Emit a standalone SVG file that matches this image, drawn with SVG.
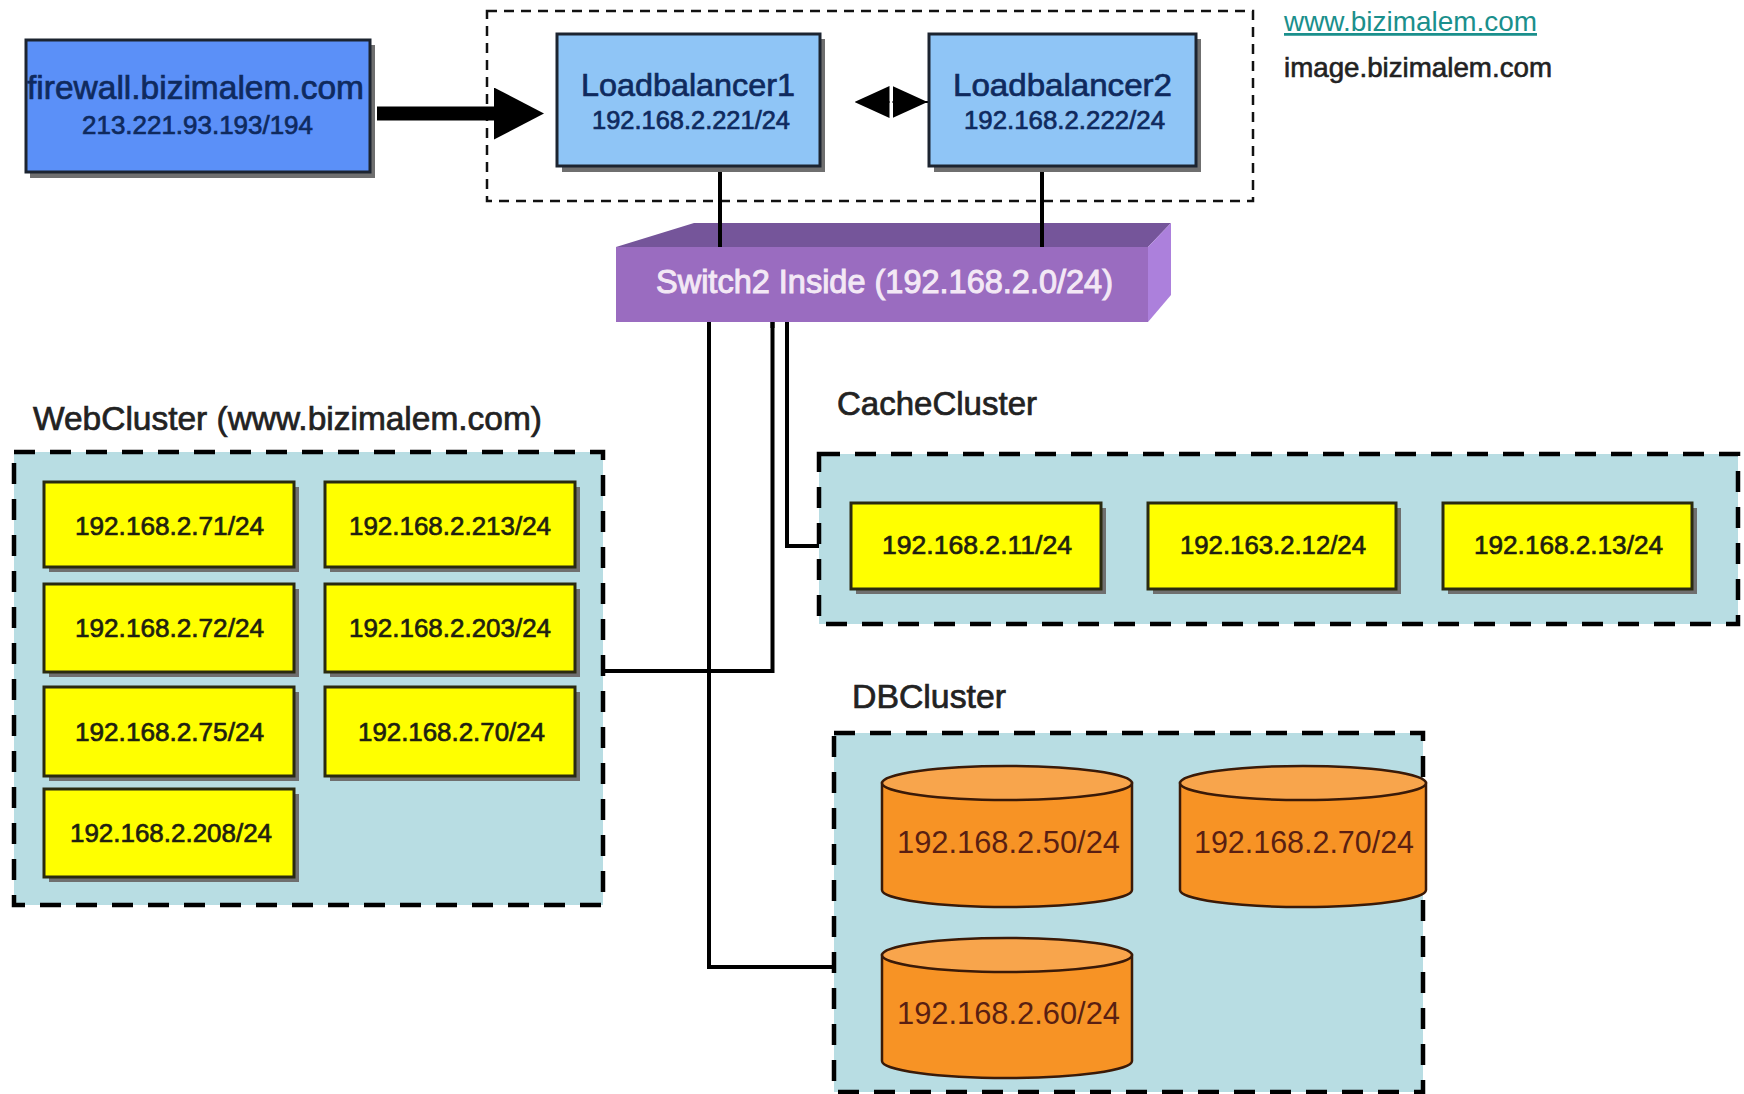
<svg xmlns="http://www.w3.org/2000/svg" width="1744" height="1094" viewBox="0 0 1744 1094">
<style>
text{font-family:"Liberation Sans",Arial,sans-serif;text-anchor:start}
.shadow{fill:#6f6f6f}
.box{stroke:#1c2430;stroke-width:3}
.fw{fill:#5b90f8}.lb{fill:#8fc5f6}.ip{fill:#ffff00;stroke:#2a2a10}
.cluster{fill:#b8dde3;stroke:#000;stroke-width:4.5;stroke-dasharray:21 15}
.blue{fill:#0f2a5e;stroke:#0f2a5e;stroke-width:.7}
.dark{fill:#222;stroke:#222;stroke-width:.6}
.ipt{fill:#1f1f10;stroke:#1f1f10;stroke-width:.7;font-size:26px}
.dbt{fill:#5a1f12;font-size:31px}
.title{fill:#222;stroke:#222;stroke-width:.7;font-size:33px}
.cyl{fill:#f79325;stroke:#3a1a08;stroke-width:2.5}
.cyltop{fill:#f8a54c;stroke:#3a1a08;stroke-width:2.5}
.conn{fill:none;stroke:#000;stroke-width:4}
</style>
<defs>
<marker id="bigHead" markerUnits="userSpaceOnUse" markerWidth="50" markerHeight="52" refX="0" refY="26" orient="auto"><path d="M0 0L50 26L0 52Z" fill="#000"/></marker>
<marker id="smallHead" markerUnits="userSpaceOnUse" markerWidth="35" markerHeight="32" refX="0" refY="16" orient="auto"><path d="M0 0L35 16L0 32Z" fill="#000"/></marker>
</defs>
<rect width="1744" height="1094" fill="#fff"/>
<g id="lb-group"><rect x="487" y="11" width="766" height="190" fill="none" stroke="#111" stroke-width="2.5" stroke-dasharray="10 7"/></g>
<g id="web-cluster"><rect class="cluster" x="14" y="452" width="589" height="453"/><text class="title" x="33" y="430" textLength="509" lengthAdjust="spacingAndGlyphs">WebCluster (www.bizimalem.com)</text></g>
<g id="cache-cluster"><rect class="cluster" x="819" y="454" width="919" height="170"/><text class="title" x="837" y="415" textLength="200" lengthAdjust="spacingAndGlyphs">CacheCluster</text></g>
<g id="db-cluster"><rect class="cluster" x="834" y="733" width="589" height="359"/><text class="title" x="852" y="708" textLength="154" lengthAdjust="spacingAndGlyphs">DBCluster</text></g>
<g id="connectors">
<path class="conn" d="M720 166V247"/>
<path class="conn" d="M1042 166V247"/>
<path class="conn" d="M709 316V967H834"/>
<path class="conn" d="M772.500 316V671H603"/>
<path class="conn" d="M787 316V546H819"/>
<path d="M377 113.500H494" fill="none" stroke="#000" stroke-width="14" marker-end="url(#bigHead)"/>
<path d="M890 102H889.500" fill="none" stroke="#000" stroke-width="2" marker-end="url(#smallHead)"/>
<path d="M892 102H892.500" fill="none" stroke="#000" stroke-width="2" marker-end="url(#smallHead)"/>
<path d="M924 102H929" fill="none" stroke="#000" stroke-width="2"/>
</g>
<g id="firewall"><rect class="shadow" x="30" y="45" width="345" height="133"/><rect class="box fw" x="26" y="40" width="344" height="132"/><text class="blue" x="27" y="99" font-size="33" textLength="337" lengthAdjust="spacingAndGlyphs">firewall.bizimalem.com</text><text class="blue" x="82" y="134" font-size="26" textLength="231" lengthAdjust="spacingAndGlyphs">213.221.93.193/194</text></g>
<g id="lb1"><rect class="shadow" x="562" y="39" width="263" height="133"/><rect class="box lb" x="557" y="34" width="263" height="132"/><text class="blue" x="581" y="96" font-size="32" textLength="214" lengthAdjust="spacingAndGlyphs">Loadbalancer1</text><text class="blue" x="592" y="129" font-size="25.500" textLength="198" lengthAdjust="spacingAndGlyphs">192.168.2.221/24</text></g>
<g id="lb2"><rect class="shadow" x="934" y="39" width="267" height="133"/><rect class="box lb" x="929" y="34" width="267" height="132"/><text class="blue" x="953" y="96" font-size="32" textLength="219" lengthAdjust="spacingAndGlyphs">Loadbalancer2</text><text class="blue" x="964" y="129" font-size="25.500" textLength="201" lengthAdjust="spacingAndGlyphs">192.168.2.222/24</text></g>
<g id="links"><text x="1284" y="31" font-size="27.500" fill="#1a8f8c" text-decoration="underline" textLength="253" lengthAdjust="spacingAndGlyphs">www.bizimalem.com</text><text class="dark" x="1284" y="77" font-size="27.500" textLength="268" lengthAdjust="spacingAndGlyphs">image.bizimalem.com</text></g>
<g id="switch">
<path d="M616 247L694 223H1171L1148 247Z" fill="#75559a"/>
<path d="M1148 247L1171 223V295L1148 322Z" fill="#ac80dc"/>
<rect x="616" y="247" width="532" height="75" fill="#9a6cc0"/>
<text x="656" y="293" font-size="32.500" fill="#f3e8f5" stroke="#f3e8f5" stroke-width="1" textLength="457" lengthAdjust="spacingAndGlyphs">Switch2 Inside (192.168.2.0/24)</text>
<path d="M720 223V247M1042 223V247" fill="none" stroke="#000" stroke-width="4"/>
<path d="M709 322V328M772.500 322V328M787 322V328" fill="none" stroke="#000" stroke-width="4"/>
</g>
<g id="w71"><rect class="shadow" x="49" y="487" width="250" height="85"/><rect class="box ip" x="44" y="482" width="250" height="85"/><text class="ipt" x="75" y="535" textLength="189" lengthAdjust="spacingAndGlyphs">192.168.2.71/24</text></g>
<g id="w72"><rect class="shadow" x="49" y="589" width="250" height="88"/><rect class="box ip" x="44" y="584" width="250" height="88"/><text class="ipt" x="75" y="637" textLength="189" lengthAdjust="spacingAndGlyphs">192.168.2.72/24</text></g>
<g id="w75"><rect class="shadow" x="49" y="692" width="250" height="89"/><rect class="box ip" x="44" y="687" width="250" height="89"/><text class="ipt" x="75" y="741" textLength="189" lengthAdjust="spacingAndGlyphs">192.168.2.75/24</text></g>
<g id="w208"><rect class="shadow" x="49" y="794" width="250" height="88"/><rect class="box ip" x="44" y="789" width="250" height="88"/><text class="ipt" x="70" y="842" textLength="202" lengthAdjust="spacingAndGlyphs">192.168.2.208/24</text></g>
<g id="w213"><rect class="shadow" x="330" y="487" width="250" height="85"/><rect class="box ip" x="325" y="482" width="250" height="85"/><text class="ipt" x="349" y="535" textLength="202" lengthAdjust="spacingAndGlyphs">192.168.2.213/24</text></g>
<g id="w203"><rect class="shadow" x="330" y="589" width="250" height="88"/><rect class="box ip" x="325" y="584" width="250" height="88"/><text class="ipt" x="349" y="637" textLength="202" lengthAdjust="spacingAndGlyphs">192.168.2.203/24</text></g>
<g id="w70"><rect class="shadow" x="330" y="692" width="250" height="89"/><rect class="box ip" x="325" y="687" width="250" height="89"/><text class="ipt" x="358" y="741" textLength="187" lengthAdjust="spacingAndGlyphs">192.168.2.70/24</text></g>
<g id="c11"><rect class="shadow" x="856" y="508" width="250" height="86"/><rect class="box ip" x="851" y="503" width="250" height="86"/><text class="ipt" x="882" y="554" textLength="190" lengthAdjust="spacingAndGlyphs">192.168.2.11/24</text></g>
<g id="c12"><rect class="shadow" x="1153" y="508" width="248" height="86"/><rect class="box ip" x="1148" y="503" width="248" height="86"/><text class="ipt" x="1180" y="554" textLength="186" lengthAdjust="spacingAndGlyphs">192.163.2.12/24</text></g>
<g id="c13"><rect class="shadow" x="1448" y="508" width="249" height="86"/><rect class="box ip" x="1443" y="503" width="249" height="86"/><text class="ipt" x="1474" y="554" textLength="189" lengthAdjust="spacingAndGlyphs">192.168.2.13/24</text></g>
<g id="d50"><path class="cyl" d="M882 783V890A125 17 0 0 0 1132 890V783Z"/><ellipse class="cyltop" cx="1007" cy="783" rx="125" ry="17"/><text class="dbt" x="897" y="853" textLength="223" lengthAdjust="spacingAndGlyphs">192.168.2.50/24</text></g>
<g id="d70"><path class="cyl" d="M1180 783V890A123 17 0 0 0 1426 890V783Z"/><ellipse class="cyltop" cx="1303" cy="783" rx="123" ry="17"/><text class="dbt" x="1194" y="853" textLength="220" lengthAdjust="spacingAndGlyphs">192.168.2.70/24</text></g>
<g id="d60"><path class="cyl" d="M882 955V1061A125 17 0 0 0 1132 1061V955Z"/><ellipse class="cyltop" cx="1007" cy="955" rx="125" ry="17"/><text class="dbt" x="897" y="1024" textLength="223" lengthAdjust="spacingAndGlyphs">192.168.2.60/24</text></g>
</svg>
